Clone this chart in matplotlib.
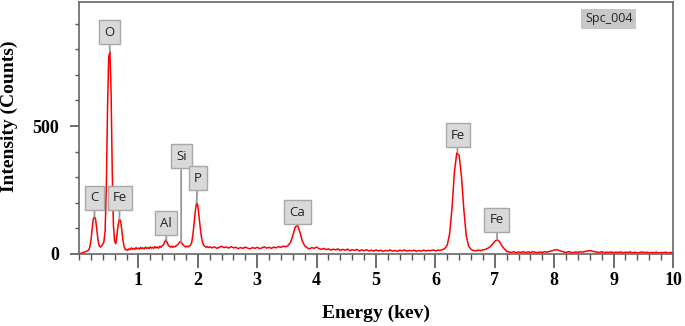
import numpy as np
import matplotlib.pyplot as plt
from matplotlib.ticker import MultipleLocator

# Spectrum
# low-energy part, channel step 0.02 keV (0.00 ... 2.20)
counts_low = [0, 2, 3, 5, 6, 8, 10, 12, 15, 25,
              50, 95, 135, 146, 135, 95, 55, 32, 27, 32,
              38, 48, 90, 260, 560, 770, 790, 640, 320, 110,
              50, 40, 75, 115, 135, 130, 95, 55, 28, 17,
              18, 14, 20, 17, 24, 19, 22, 18, 25, 20,
              23, 19, 26, 21, 24, 20, 27, 22, 25, 21,
              28, 23, 26, 22, 29, 24, 27, 23, 30, 26,
              32, 35, 45, 55, 48, 36, 30, 27, 31, 26,
              30, 28, 33, 36, 42, 48, 46, 40, 34, 30,
              27, 31, 28, 32, 35, 48, 80, 125, 170, 200,
              190, 150, 105, 68, 45, 34, 30, 26, 29, 25,
              28]
# high-energy part, channel step 0.04 keV (2.24 ... 10.00)
counts_high = [24, 28, 22, 26, 30, 25, 27, 23, 29, 24,
               26, 21, 25, 22, 27, 23, 20, 25, 22, 26,
               21, 24, 28, 23, 26, 22, 27, 24, 29, 26,
               31, 28, 33, 45, 72, 105, 112, 85, 50, 32,
               24, 20, 25, 22, 27, 21, 18, 22, 17, 20,
               15, 19, 16, 20, 14, 18, 15, 19, 13, 17,
               14, 18, 12, 16, 13, 17, 12, 15, 11, 16,
               12, 15, 10, 14, 12, 16, 11, 14, 10, 15,
               12, 16, 11, 14, 12, 15, 10, 14, 11, 15,
               12, 14, 13, 16, 12, 15, 14, 17, 22, 35,
               80, 180, 320, 395, 385, 300, 170, 70, 30, 18,
               14, 12, 15, 13, 16, 18, 22, 28, 38, 50,
               56, 48, 32, 20, 10, 8, 6, 9, 5, 8,
               6, 9, 5, 8, 6, 9, 7, 5, 8, 6,
               9, 7, 10, 12, 15, 17, 14, 11, 8, 6,
               9, 7, 5, 8, 6, 9, 7, 10, 12, 13,
               11, 9, 7, 6, 9, 5, 7, 6, 8, 5,
               7, 6, 8, 5, 7, 6, 8, 5, 7, 4,
               6, 8, 5, 7, 4, 6, 5, 7, 4, 6,
               5, 7, 4, 6, 5]

energy_low = np.arange(len(counts_low)) * 0.02
energy_high = 2.24 + np.arange(len(counts_high)) * 0.04
energy = np.concatenate([energy_low, energy_high])
counts = np.concatenate([counts_low, counts_high])

# peak labels
elements = ['C', 'O', 'Fe', 'Al', 'Si', 'P', 'Ca', 'Fe', 'Fe']
peak_e = [0.26, 0.52, 0.68, 1.47, 1.72, 1.98, 3.68, 6.37, 7.04]
peak_c = [146, 790, 135, 55, 47, 200, 112, 397, 56]
label_e = [0.26, 0.51, 0.69, 1.47, 1.72, 2.00, 3.68, 6.38, 7.03]
label_c = [219, 867, 219, 121, 383, 297, 164, 465, 133]

plt.rcParams['font.family'] = 'Liberation Serif'

fig = plt.figure(figsize=(6.85, 3.26), dpi=100)
ax = fig.add_axes([0.1153, 0.2209, 0.8672, 0.773])

ax.plot(energy, counts, color='#ff0000', linewidth=1.1)

for el, pe, pc, le, lc in zip(elements, peak_e, peak_c, label_e, label_c):
    ax.annotate(el, xy=(pe, pc), xytext=(le, lc), ha='center', va='center',
                family='Open Sans', fontsize=9.5, color='#222222',
                bbox=dict(boxstyle='square,pad=0.4', fc='#d9d9d9', ec='#a8a8a8', lw=1.0),
                arrowprops=dict(arrowstyle='-', color='#999999', lw=1.3,
                                shrinkA=0, shrinkB=0))

ax.text(0.892, 0.933, 'Spc_004', transform=ax.transAxes, ha='center', va='center',
        family='Open Sans', fontsize=9, color='#222222',
        bbox=dict(boxstyle='square,pad=0.3', fc='#c8c8c8', ec='none'))

ax.set_xlim(0, 10)
ax.set_ylim(0, 985)
ax.xaxis.set_major_locator(MultipleLocator(1))
ax.xaxis.set_minor_locator(MultipleLocator(0.2))
ax.yaxis.set_major_locator(MultipleLocator(500))
ax.yaxis.set_minor_locator(MultipleLocator(100))
ax.set_xticks(range(1, 11))
ax.set_xticklabels([str(i) for i in range(1, 11)])

ax.tick_params(axis='x', which='major', length=10, width=1.2, color='#555555',
               labelsize=13, pad=3)
ax.tick_params(axis='x', which='minor', length=4, width=1.0, color='#555555')
ax.tick_params(axis='y', which='major', length=6.5, width=1.2, color='#555555',
               labelsize=13, pad=8)
ax.tick_params(axis='y', which='minor', length=3, width=1.0, color='#555555')
for lab in ax.get_xticklabels() + ax.get_yticklabels():
    lab.set_fontweight('bold')

for s in ax.spines.values():
    s.set_color('#666666')
    s.set_linewidth(1.2)

ax.set_xlabel('Energy (kev)', fontsize=14, fontweight='bold')
ax.xaxis.set_label_coords(0.5, -0.2)
ax.set_ylabel('Intensity (Counts)', fontsize=14, fontweight='bold')
ax.yaxis.set_label_coords(-0.103, 0.548)

fig.savefig('out.png', dpi=100)
